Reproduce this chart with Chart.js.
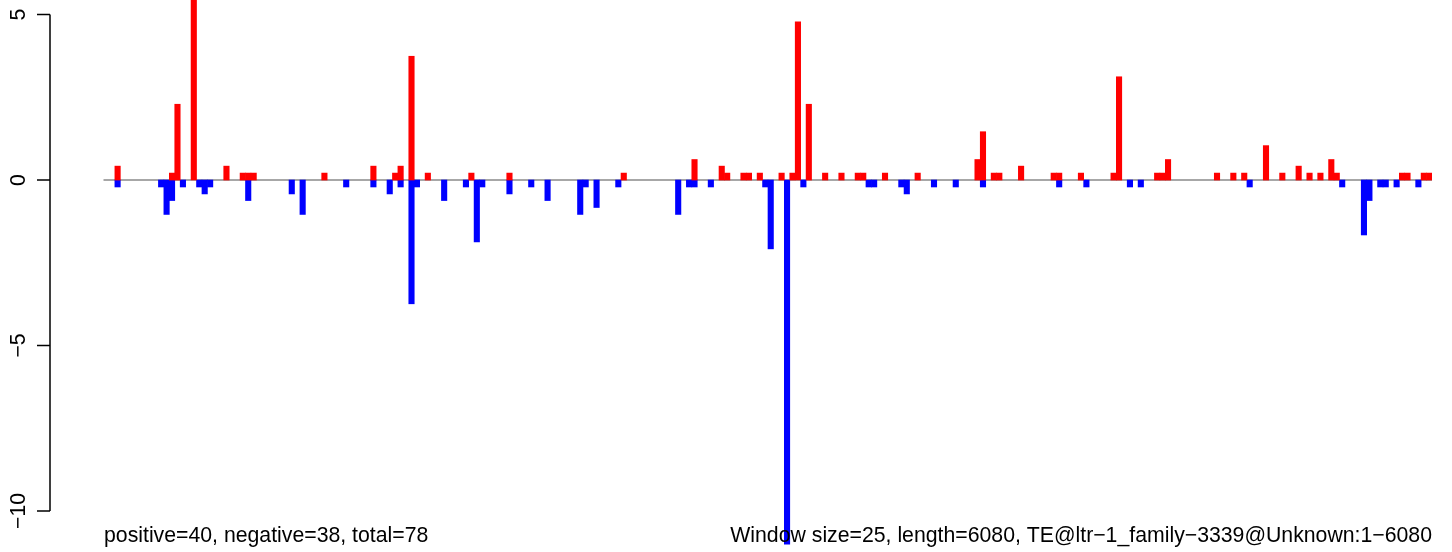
<!DOCTYPE html>
<html>
<head>
<meta charset="utf-8">
<script src="https://cdn.jsdelivr.net/npm/chart.js@4/dist/chart.umd.min.js"></script>
<style>
  html, body { margin: 0; padding: 0; background: #fff; }
  #wrap { position: relative; width: 1452px; height: 552px; }
</style>
</head>
<body>
<div id="wrap"><canvas id="te-chart" width="1452" height="552"></canvas></div>
<script>
// Windows along the element (6080 bp / 25 bp windows)
const windowCount = 244;

// Positive (red) windows and their heights
const posWindows = [2, 12, 13, 16, 22, 25, 26, 27, 40, 49, 53, 54, 56, 59, 67, 74, 95,
  108, 113, 114, 117, 118, 120, 124, 126, 127, 129, 132, 135, 138, 139, 143, 149,
  160, 161, 163, 164, 168, 174, 175, 179, 185, 186, 193, 194, 195, 204, 207, 209,
  213, 216, 219, 221, 223, 225, 226, 238, 239, 242, 243];
const posValues = [0.42, 0.21, 2.29, 5.6, 0.42, 0.21, 0.21, 0.21, 0.21, 0.42, 0.21, 0.42, 3.74, 0.21, 0.21, 0.21, 0.21,
  0.62, 0.42, 0.21, 0.21, 0.21, 0.21, 0.21, 0.21, 4.78, 2.29, 0.21, 0.21, 0.21, 0.21, 0.21, 0.21,
  0.62, 1.46, 0.21, 0.21, 0.42, 0.21, 0.21, 0.21, 0.21, 3.12, 0.21, 0.21, 0.62, 0.21, 0.21, 0.21,
  1.04, 0.21, 0.42, 0.21, 0.21, 0.62, 0.21, 0.21, 0.21, 0.21, 0.21];

// Negative (blue) windows and their heights
const negWindows = [2, 10, 11, 12, 14, 17, 18, 19, 26, 34, 36, 44, 49, 52, 54, 56, 57, 62, 66,
  68, 69, 74, 78, 81, 87, 88, 90, 94, 105, 107, 108, 111, 121, 122, 125, 128, 140, 141,
  146, 147, 152, 156, 161, 175, 180, 188, 190, 210, 227, 231, 232, 234, 235, 237, 241];
const negValues = [-0.21, -0.21, -1.04, -0.62, -0.21, -0.21, -0.42, -0.21, -0.62, -0.42, -1.04, -0.21, -0.21, -0.42, -0.21, -3.74, -0.21, -0.62, -0.21,
  -1.87, -0.21, -0.42, -0.21, -0.62, -1.04, -0.21, -0.83, -0.21, -1.04, -0.21, -0.21, -0.21, -0.21, -2.08, -11.0, -0.21, -0.21, -0.21,
  -0.21, -0.42, -0.21, -0.21, -0.21, -0.21, -0.21, -0.21, -0.21, -0.21, -0.21, -1.66, -0.62, -0.21, -0.21, -0.21, -0.21];

// Axis ticks and captions
const yTicks = [5, 0, -5, -10];
const leftCaption = 'positive=40, negative=38, total=78';
const rightCaption = 'Window size=25, length=6080, TE@ltr\u22121_family\u22123339@Unknown:1\u22126080';

// Build the per-window tables
const labels = [];
const posData = [];
const negData = [];
for (let i = 0; i < windowCount; i++) {
  labels.push(String(i + 1));
  posData.push(null);
  negData.push(null);
}
posWindows.forEach((w, i) => { posData[w] = posValues[i]; });
negWindows.forEach((w, i) => { negData[w] = negValues[i]; });

const FONT = '21.25px "Liberation Sans", Arial, Helvetica, sans-serif';

// zero line under the bars
const zeroLine = {
  id: 'zeroLine',
  beforeDatasetsDraw(chart) {
    const { ctx, chartArea, scales } = chart;
    const y = scales.y.getPixelForValue(0);
    ctx.save();
    ctx.strokeStyle = '#8a8a8a';
    ctx.lineWidth = 1.5;
    ctx.beginPath();
    ctx.moveTo(chartArea.left - 0.5, y);
    ctx.lineTo(chartArea.right, y);
    ctx.stroke();
    ctx.restore();
  }
};

// R-style left axis, detached from the plot, plus the captions
const rAxis = {
  id: 'rAxis',
  afterDraw(chart) {
    const { ctx, scales } = chart;
    const ys = scales.y;
    const axisX = 50;
    ctx.save();
    ctx.strokeStyle = '#000';
    ctx.lineWidth = 1.5;
    ctx.beginPath();
    ctx.moveTo(axisX, ys.getPixelForValue(yTicks[0]));
    ctx.lineTo(axisX, ys.getPixelForValue(yTicks[yTicks.length - 1]));
    yTicks.forEach(t => {
      const y = ys.getPixelForValue(t);
      ctx.moveTo(axisX, y);
      ctx.lineTo(axisX - 13, y);
    });
    ctx.stroke();

    ctx.fillStyle = '#000';
    ctx.font = FONT;
    ctx.textAlign = 'center';
    ctx.textBaseline = 'alphabetic';
    yTicks.forEach(t => {
      const y = ys.getPixelForValue(t);
      ctx.save();
      ctx.translate(25, y);
      ctx.rotate(-Math.PI / 2);
      ctx.fillText(String(t).replace('-', '\u2212'), 0, 0);
      ctx.restore();
    });

    ctx.textAlign = 'left';
    ctx.fillText(leftCaption, 104, 542);
    ctx.textAlign = 'right';
    ctx.fillText(rightCaption, 1432, 542);
    ctx.restore();
  }
};

new Chart(document.getElementById('te-chart'), {
  type: 'bar',
  data: {
    labels,
    datasets: [
      { label: 'positive', data: posData, backgroundColor: '#ff0000', borderWidth: 0 },
      { label: 'negative', data: negData, backgroundColor: '#0000ff', borderWidth: 0 }
    ]
  },
  options: {
    responsive: false,
    animation: false,
    devicePixelRatio: 1,
    layout: { padding: { left: 104, right: 20, top: 0, bottom: 0 } },
    datasets: { bar: { barPercentage: 1, categoryPercentage: 1 } },
    plugins: { legend: { display: false }, tooltip: { enabled: false } },
    scales: {
      x: { display: false, stacked: true, grid: { display: false } },
      y: { display: false, stacked: true, min: -11.24, max: 5.44, grid: { display: false } }
    }
  },
  plugins: [zeroLine, rAxis]
});
</script>
</body>
</html>
